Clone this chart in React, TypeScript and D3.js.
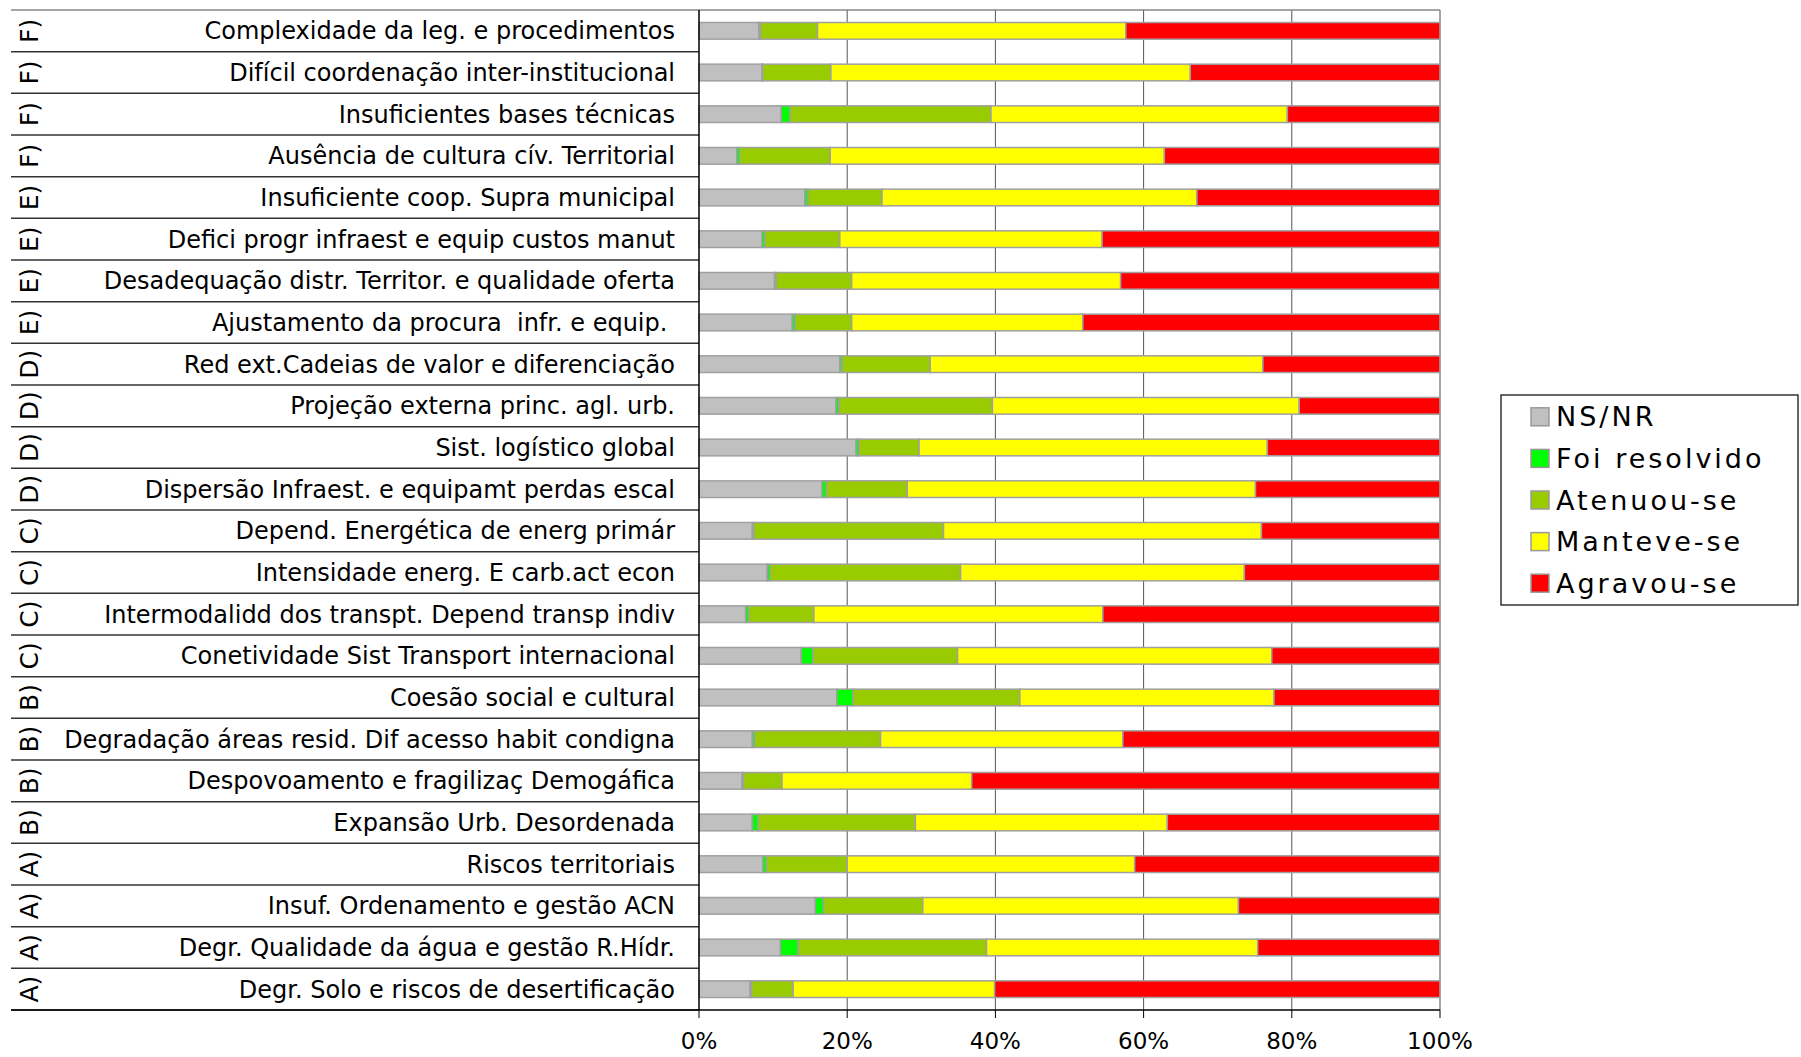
import React from "react";
import * as d3 from "d3";

const groups = ["F)", "F)", "F)", "F)", "E)", "E)", "E)", "E)", "D)", "D)", "D)", "D)", "C)", "C)", "C)", "C)", "B)", "B)", "B)", "B)", "A)", "A)", "A)", "A)"];

const categories = [
  "Complexidade da leg. e procedimentos",
  "Difícil coordenação inter-institucional",
  "Insuficientes bases técnicas",
  "Ausência de cultura cív. Territorial",
  "Insuficiente coop. Supra municipal",
  "Defici progr infraest e equip custos manut",
  "Desadequação distr. Territor. e qualidade oferta",
  "Ajustamento da procura  infr. e equip. ",
  "Red ext.Cadeias de valor e diferenciação",
  "Projeção externa princ. agl. urb.",
  "Sist. logístico global",
  "Dispersão Infraest. e equipamt perdas escal",
  "Depend. Energética de energ primár",
  "Intensidade energ. E carb.act econ",
  "Intermodalidd dos transpt. Depend transp indiv",
  "Conetividade Sist Transport internacional",
  "Coesão social e cultural",
  "Degradação áreas resid. Dif acesso habit condigna",
  "Despovoamento e fragilizaç Demogáfica",
  "Expansão Urb. Desordenada",
  "Riscos territoriais",
  "Insuf. Ordenamento e gestão ACN",
  "Degr. Qualidade da água e gestão R.Hídr.",
  "Degr. Solo e riscos de desertificação",
];

const nsnr = [8.1, 8.5, 11.1, 5.1, 14.3, 8.5, 10.2, 12.6, 19.0, 18.5, 21.2, 16.6, 7.2, 9.2, 6.3, 13.8, 18.6, 7.2, 5.8, 7.2, 8.6, 15.7, 11.0, 6.9];
const foiResolvido = [0.2, 0.1, 1.2, 0.4, 0.4, 0.4, 0.2, 0.4, 0.3, 0.4, 0.4, 0.6, 0.2, 0.4, 0.4, 1.6, 2.2, 0.3, 0.2, 0.8, 0.5, 1.1, 2.4, 0.2];
const atenuou = [7.7, 9.2, 27.1, 12.2, 10.0, 10.1, 10.2, 7.6, 11.9, 20.7, 8.1, 10.9, 25.6, 25.7, 8.8, 19.5, 22.5, 17.0, 5.2, 21.2, 10.9, 13.4, 25.4, 5.6];
const manteve = [41.6, 48.5, 40.0, 45.1, 42.5, 35.4, 36.3, 31.2, 44.9, 41.4, 47.0, 47.0, 42.9, 38.3, 39.0, 42.4, 34.3, 32.7, 25.6, 34.0, 38.8, 42.6, 36.6, 27.2];
const agravou = [42.4, 33.7, 20.6, 37.2, 32.8, 45.6, 43.1, 48.2, 23.9, 19.0, 23.3, 24.9, 24.1, 26.4, 45.5, 22.7, 22.4, 42.8, 63.2, 36.8, 41.2, 27.2, 24.6, 60.1];

const seriesNames = ["NS/NR", "Foi resolvido", "Atenuou-se", "Manteve-se", "Agravou-se"];
const seriesColors = ["#C0C0C0", "#00FF00", "#99CC00", "#FFFF00", "#FF0000"];
const xTicks = [0, 0.2, 0.4, 0.6, 0.8, 1];

const W = 1801;
const H = 1057;
const FONT = "'DejaVu Sans', Verdana, sans-serif";

export default function App() {
  const rows = categories.map((c, i) => ({
    key: String(i),
    "NS/NR": nsnr[i],
    "Foi resolvido": foiResolvido[i],
    "Atenuou-se": atenuou[i],
    "Manteve-se": manteve[i],
    "Agravou-se": agravou[i],
  }));
  const keys = rows.map((r) => r.key);

  const left = 699;
  const right = 1440;
  const top = 10;
  const bottom = 1010;

  const x = d3.scaleLinear().domain([0, 1]).range([left, right]);
  const y = d3.scaleBand<string>().domain(keys).range([top, bottom]).paddingInner(0.6).paddingOuter(0.3);
  const step = y.step();

  const stack = d3.stack<any>().keys(seriesNames).offset(d3.stackOffsetExpand);
  const stacked = stack(rows);

  const fmt = d3.format(".0%");

  const boundaries = d3.range(keys.length + 1).map((i) => top + i * step);

  const legend = d3.scaleBand<string>().domain(seriesNames).range([396, 604]);

  return (
    <svg width={W} height={H} style={{ position: "absolute", left: 0, top: 0, background: "#fff" }} fontFamily={FONT}>
      <rect x={0} y={0} width={W} height={H} fill="#fff" />
      {/* gridlines */}
      {xTicks.slice(1, -1).map((t) => (
        <line key={"g" + t} x1={x(t)} x2={x(t)} y1={top} y2={bottom} stroke="#555" strokeWidth={1} />
      ))}
      {/* plot border top/right */}
      <line x1={left} x2={right} y1={top} y2={top} stroke="#888" strokeWidth={1.5} />
      <line x1={right} x2={right} y1={top} y2={bottom} stroke="#888" strokeWidth={1.5} />
      {/* bars */}
      {stacked.map((s, si) => (
        <g key={s.key} fill={seriesColors[si]} stroke="#a0a0a0" strokeWidth={1.5}>
          {s.map((d, i) => (
            <rect
              key={i}
              x={x(d[0])}
              y={y(keys[i])}
              width={Math.max(0, x(d[1]) - x(d[0]))}
              height={y.bandwidth()}
            />
          ))}
        </g>
      ))}
      {/* category separators */}
      {boundaries.map((b, i) => (
        <line key={"s" + i} x1={11} x2={left} y1={b} y2={b} stroke={i === 0 ? "#888" : "#333"} strokeWidth={1.5} />
      ))}
      {/* axes */}
      <line x1={left} x2={left} y1={top} y2={bottom} stroke="#000" strokeWidth={1.5} />
      <line x1={11} x2={right} y1={bottom} y2={bottom} stroke="#000" strokeWidth={1.5} />
      {xTicks.map((t) => (
        <g key={"t" + t}>
          <line x1={x(t)} x2={x(t)} y1={bottom} y2={bottom + 8} stroke="#000" strokeWidth={1} />
          <text x={x(t)} y={1049} textAnchor="middle" fontSize={23} fill="#000">
            {fmt(t)}
          </text>
        </g>
      ))}
      {/* category labels */}
      {categories.map((c, i) => {
        const cy = (y(keys[i]) as number) + y.bandwidth() / 2;
        return (
          <g key={"l" + i}>
            <text x={675} y={cy + 8.5} textAnchor="end" fontSize={24} fill="#000" style={{ whiteSpace: "pre" }}>
              {c}
            </text>
            <text
              transform={`translate(29,${cy}) rotate(-90)`}
              textAnchor="middle"
              dominantBaseline="central"
              fontSize={25}
              fill="#000"
            >
              {groups[i]}
            </text>
          </g>
        );
      })}
      {/* legend */}
      <rect x={1501} y={395} width={297} height={210} fill="#fff" stroke="#000" strokeWidth={1.2} />
      {seriesNames.map((n, i) => {
        const cy = (legend(n) as number) + legend.bandwidth() / 2;
        return (
          <g key={"lg" + i}>
            <rect x={1531} y={cy - 9} width={18} height={18} fill={seriesColors[i]} stroke="#999" strokeWidth={1.5} />
            <text x={1556} y={cy + 9.5} fontSize={27} letterSpacing={3} fill="#000">
              {n}
            </text>
          </g>
        );
      })}
    </svg>
  );
}
